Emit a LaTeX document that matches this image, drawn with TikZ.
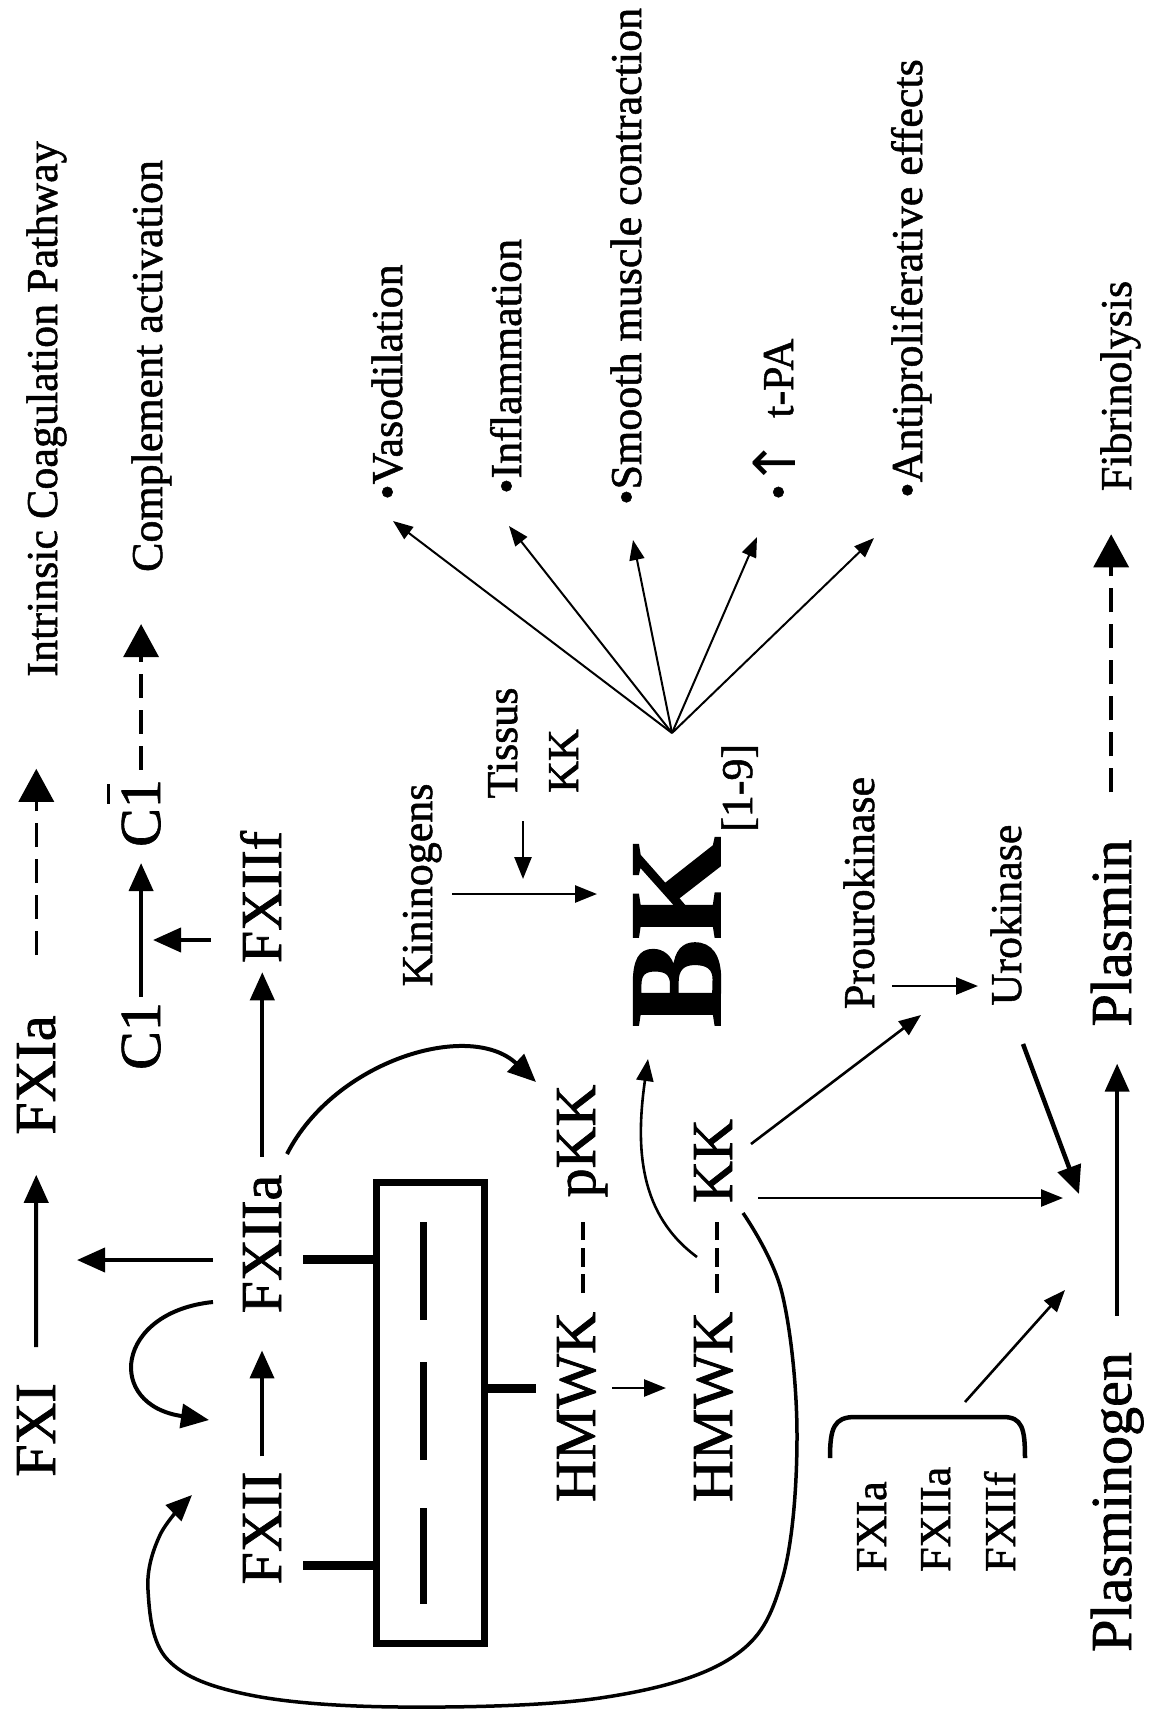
\documentclass[tikz,border=0pt]{standalone}
\usepackage{fontspec}
\setmainfont{Liberation Serif}[FakeBold=1.2]
\newfontfamily\arrowfont{DejaVu Sans}
\usetikzlibrary{arrows.meta}
\begin{document}
\begin{tikzpicture}[x=1pt,y=-1pt,
  big/.style={rotate=90, inner sep=0pt, font=\fontsize{58}{60}\selectfont},
  sml/.style={rotate=90, inner sep=0pt, font=\fontsize{44}{46}\selectfont},
  thk/.style={line width=4pt, -{Triangle[length=28pt,width=24pt]}},
  med/.style={line width=2.6pt, -{Triangle[length=22pt,width=17pt]}},
  thn/.style={line width=2pt, -{Triangle[length=20pt,width=15pt]}},
  dsh/.style={line width=3.5pt, dash pattern=on 24pt off 12pt, -{Triangle[length=33pt,width=35pt]}},
  hyph/.style={line width=4.5pt, dash pattern=on 19pt off 7.5pt},
  boxline/.style={line width=7pt},
  tab/.style={line width=9pt},
]
\useasboundingbox (0,0) rectangle (1155,1712);
\fill[white] (0,0) rectangle (1155,1712);

% ---- labels ----
\node[big, anchor=base] (fxi) at (55,1430) {FXI};
\node[big, anchor=base] (fxia) at (55,1075) {FXIa};
\node[sml, anchor=base] (intr) at (57,409) {Intrinsic Coagulation Pathway};
\node[big, anchor=base] (cone) at (160,1036) {C1};
\node[big, anchor=base] (conebar) at (160,813) {C\makebox[0pt][l]{\hspace{0.08em}\raisebox{0.86em}{\rule{0.34em}{0.05em}}}1};
\node[sml, anchor=base] (compl) at (162,366) {Complement activation};
\node[big, anchor=base] (fxii) at (281,1528) {FXII};
\node[big, anchor=base] (fxiia) at (281,1244) {FXIIa};
\node[big, anchor=base] (fxiif) at (281,897) {FXIIf};
\node[big, anchor=base] (hmwka) at (595,1407) {HMWK};
\node[big, anchor=base] (pkk) at (595,1141) {pKK};
\node[big, anchor=base] (hmwkb) at (732,1407) {HMWK};
\node[big, anchor=base] (kk) at (732,1161) {KK};
\node[sml, anchor=base] (kinin) at (432,885) {Kininogens};
\node[sml, anchor=base] (tissus) at (517,743) {Tissus};
\node[sml, anchor=base] (tkk) at (578,761) {KK};
\node[rotate=90, inner sep=0pt, anchor=base, font=\fontsize{132}{134}\selectfont\bfseries] (bk) at (720,932) {BK};
\node[sml, anchor=base west] (bksub) at (752,832) {[1-9]};
\node[sml, anchor=base west] (vaso) at (402,500) {•Vasodilation};
\node[sml, anchor=base west] (infl) at (521,494) {•Inflammation};
\node[sml, anchor=base west] (smc) at (641,505) {•Smooth muscle contraction};
\node[sml, anchor=base west] (bull) at (793,500) {•};
\node[rotate=90, inner sep=0pt, anchor=base, font=\arrowfont\fontsize{58}{58}\selectfont] (uparr) at (795,463) {↑};
\node[sml, anchor=base west] (tpa) at (793,418) {t-PA};
\node[sml, anchor=base west] (antip) at (922,498) {•Antiproliferative effects};
\node[sml, anchor=base] (fibr) at (1131,386) {Fibrinolysis};
\node[sml, anchor=base] (prouro) at (874,893) {Prourokinase};
\node[sml, anchor=base] (uro) at (1021,915) {Urokinase};
\node[big, anchor=base] (plasmin) at (1131,933) {Plasmin};
\node[big, anchor=base] (plgn) at (1131,1502) {Plasminogen};
\node[sml, anchor=base west] (sfxia) at (886,1572) {FXIa};
\node[sml, anchor=base west] (sfxiia) at (950,1572) {FXIIa};
\node[sml, anchor=base west] (sfxiif) at (1015,1572) {FXIIf};

% ---- surface box ----
\node[draw, boxline, minimum width=108pt, minimum height=461pt, inner sep=0pt] (surf) at (430,1412.5) {};
\draw[line width=7pt] (423,1222) -- (423,1320);
\draw[line width=7pt] (423,1362) -- (423,1460);
\draw[line width=7pt] (423,1508) -- (423,1604);
\coordinate (tabA) at (303,1259);
\coordinate (tabB) at (303,1565);
\coordinate (tabC) at (536,1388);
\draw[tab] (tabA) -- (surf.west |- tabA);
\draw[tab] (tabB) -- (surf.west |- tabB);
\draw[tab] (surf.east |- tabC) -- (tabC);

% ---- coagulation column ----
\draw[thk, shorten <=36pt, shorten >=40pt] (fxi.east) -- (fxia.west);
\draw[dsh, shorten <=60pt, shorten >=92pt] (fxia.east) -- (fxia.east |- intr.west);
\draw[thk, shorten <=5pt, shorten >=16pt] (cone.east) -- (cone.east |- conebar.west);
\draw[dsh, shorten <=9pt, shorten >=52pt] (cone.east |- conebar.east) -- (cone.east |- compl.west);
\coordinate (cmid) at (141,940);
\draw[thk, shorten <=29pt, shorten >=12pt] (fxiif.north |- cmid) -- (cmid);
\draw[thk, shorten <=15pt, shorten >=37pt] (fxii.east) -- (fxii.east |- fxiia.west);
\draw[thk, shorten <=18pt, shorten >=9pt] (fxiia.east) -- (fxiia.east |- fxiif.west);
\coordinate (fxl) at (77,1260);
\draw[thk, shorten <=30pt] (fxiia.north |- fxl) -- (fxl);
\coordinate (lpA) at (213,1302);
\coordinate (lpB) at (209,1420);
\draw[thk] (lpA) .. controls (115,1312) and (105,1405) .. (lpB);
\coordinate (pkA) at (287,1154);
\coordinate (pkB) at (536,1082);
\draw[thk] (pkA) .. controls (335,1060) and (470,1020) .. (pkB);

% ---- kinin system ----
\coordinate (da1) at (583,1293); \coordinate (da2) at (583,1222);
\draw[hyph] (da1) -- (da2);
\coordinate (db1) at (717,1293); \coordinate (db2) at (717,1222);
\draw[hyph] (db1) -- (db2);
\coordinate (hh1) at (612,1388); \coordinate (hh2) at (666,1388);
\draw[med] (hh1) -- (hh2);
\coordinate (kn1) at (452,894); \coordinate (kn2) at (597,894);
\draw[med] (kn1) -- (kn2);
\coordinate (ts1) at (523,821); \coordinate (ts2) at (523,879);
\draw[med] (ts1) -- (ts2);
\coordinate (bc1) at (697,1257); \coordinate (bc2) at (648,1059);
\draw[med] (bc1) .. controls (640,1215) and (635,1150) .. (bc2);
\draw[line width=3.5pt, -{Triangle[length=26pt,width=22pt]}] plot[smooth, tension=0.6] coordinates {(743,1213) (782,1293) (797,1436) (782,1580) (731,1658) (600,1698) (400,1707) (250,1695) (168,1660) (148,1590) (160,1535) (192,1495)};

% ---- fan ----
\coordinate (apex) at (672,733);
\coordinate (tv) at (393,521);
\coordinate (ti) at (509,526);
\coordinate (tsm) at (633,540);
\coordinate (tt) at (757,537);
\coordinate (ta) at (874,538);
\foreach \t in {tv,ti,tsm,tt,ta} \draw[thn] (apex) -- (\t);

% ---- fibrinolysis ----
\coordinate (kp1) at (751,1144); \coordinate (kp2) at (921,1015);
\draw[med] (kp1) -- (kp2);
\coordinate (kj1) at (758,1198); \coordinate (kj2) at (1063,1198);
\draw[med] (kj1) -- (kj2);
\coordinate (pu1) at (892,986); \coordinate (pu2) at (978,986);
\draw[med] (pu1) -- (pu2);
\coordinate (uj1) at (1023,1044); \coordinate (uj2) at (1079,1194);
\draw[line width=4.5pt, -{Triangle[length=28pt,width=24pt]}] (uj1) -- (uj2);
\coordinate (br1) at (965,1402); \coordinate (br2) at (1065,1290);
\draw[med] (br1) -- (br2);
\draw[line width=4.5pt] (830,1458) .. controls (830,1428) and (834,1417) .. (855,1417) -- (1003,1417) .. controls (1022,1417) and (1025,1428) .. (1025,1458);
\draw[thk, shorten <=36pt, shorten >=37pt] (plgn.east) -- (plgn.east |- plasmin.west);
\draw[dsh, shorten <=47pt, shorten >=43pt] (plasmin.east) -- (plasmin.east |- fibr.west);
\end{tikzpicture}
\end{document}
